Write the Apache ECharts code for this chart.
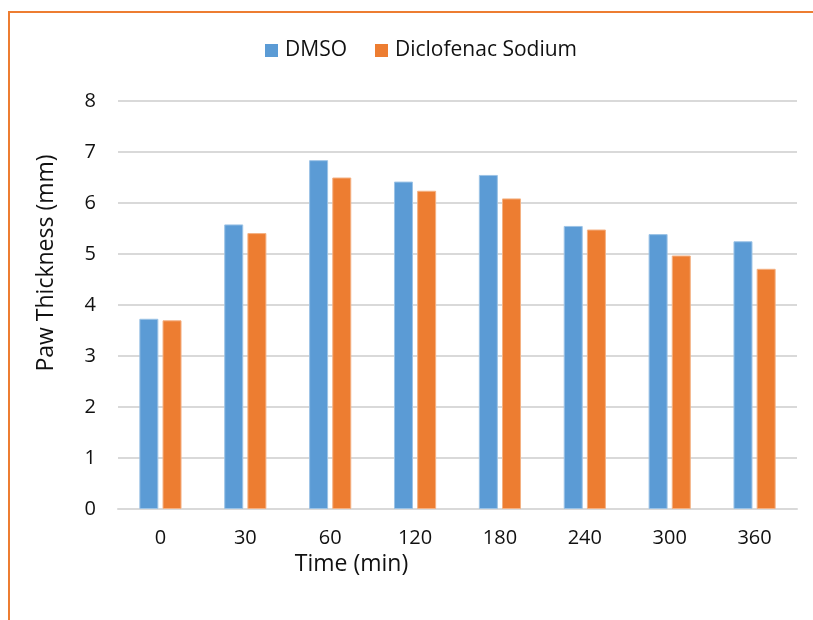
<!DOCTYPE html>
<html>
<head>
<meta charset="utf-8">
<script src="https://cdn.jsdelivr.net/npm/echarts@6/dist/echarts.min.js"></script>
<style>
html,body{margin:0;padding:0;background:#fff;}
#chart{width:813px;height:620px;}
</style>
</head>
<body>
<div id="chart"></div>
<script>
const categories = ['0','30','60','120','180','240','300','360'];
const dmso = [3.73, 5.58, 6.84, 6.42, 6.55, 5.55, 5.39, 5.25];
const diclofenac = [3.70, 5.41, 6.50, 6.24, 6.09, 5.48, 4.97, 4.71];
const seriesNames = ['DMSO', 'Diclofenac Sodium'];
const yTicks = [0, 1, 2, 3, 4, 5, 6, 7, 8];

const FONT = 'Open Sans';
const chart = echarts.init(document.getElementById('chart'), null, {renderer: 'canvas'});
chart.setOption({
  backgroundColor: '#fff',
  animation: false,
  graphic: [{
    type: 'rect',
    shape: {x: 9, y: 12, width: 1000, height: 1000},
    style: {fill: 'none', stroke: '#ed7d31', lineWidth: 2},
    silent: true
  }],
  legend: {
    left: 260,
    top: 35,
    itemWidth: 13,
    itemHeight: 13,
    itemGap: 28,
    icon: 'rect',
    itemStyle: {borderWidth: 0},
    textStyle: {fontFamily: FONT, fontSize: 21, color: '#111', padding: [0,0,0,2]},
    data: seriesNames
  },
  grid: {left: 118, right: 16, top: 101, bottom: 111, containLabel: false},
  xAxis: {
    type: 'category',
    data: categories,
    name: 'Time (min)',
    nameLocation: 'middle',
    nameGap: 39,
    nameTextStyle: {fontFamily: FONT, fontSize: 23, color: '#111', padding: [0, 212, 0, 0]},
    axisLine: {lineStyle: {color: '#d9d9d9', width: 2}},
    axisTick: {show: false},
    axisLabel: {fontFamily: FONT, fontSize: 20, color: '#111', margin: 19}
  },
  yAxis: {
    type: 'value',
    min: 0,
    max: 8,
    interval: 1,
    name: 'Paw Thickness (mm)',
    nameLocation: 'middle',
    nameRotate: 90,
    nameGap: 60,
    nameTextStyle: {fontFamily: FONT, fontSize: 23, color: '#111', padding: [0, 0, 0, 84]},
    axisLine: {show: false},
    axisTick: {show: false},
    splitLine: {lineStyle: {color: '#d9d9d9', width: 2}},
    axisLabel: {fontFamily: FONT, fontSize: 20, color: '#111', margin: 22,
      formatter: v => yTicks.includes(v) ? String(v) : ''}
  },
  series: [
    {
      name: seriesNames[0], type: 'bar', data: dmso,
      barWidth: 19, barGap: '22%',
      itemStyle: {color: '#5b9bd5', borderColor: '#9cc3e6', borderWidth: 1}
    },
    {
      name: seriesNames[1], type: 'bar', data: diclofenac,
      barWidth: 19, barGap: '22%',
      itemStyle: {color: '#ed7d31', borderColor: '#f4b183', borderWidth: 1}
    }
  ]
});
</script>
</body>
</html>
